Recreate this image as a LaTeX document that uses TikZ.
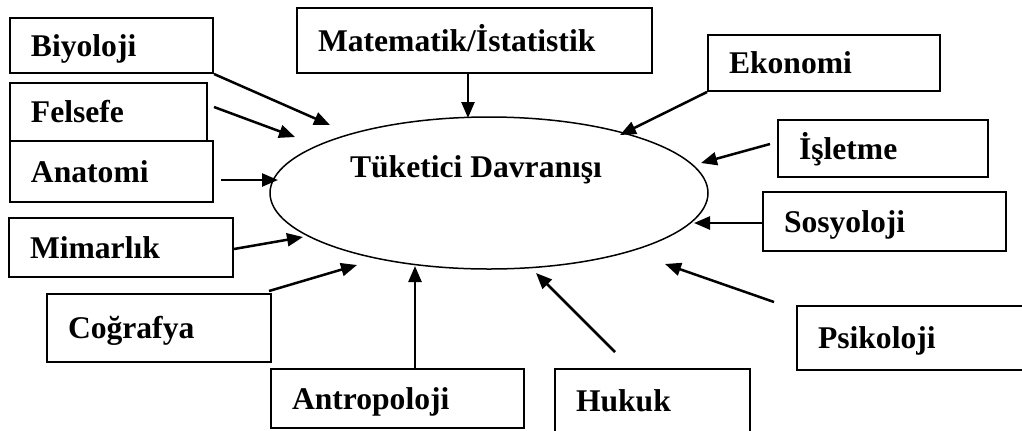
\documentclass[tikz,border=0pt]{standalone}
\usepackage{fontspec}
\setmainfont{Liberation Serif}
\usetikzlibrary{arrows.meta,shapes.geometric}

\tikzset{
  kutu/.style={draw, line width=1pt, inner xsep=10.5pt, inner ysep=0pt, align=left,
    text height=10.5pt, text depth=0pt, font=\fontsize{15.8}{19}\selectfont\bfseries},
  ok/.style={line width=1.25pt, -{Triangle[length=8pt,width=6.5pt]}}
}

\begin{document}
\begin{tikzpicture}[x=0.5pt,y=-0.5pt]
\useasboundingbox (0,0) rectangle (1022,430);

% centre
\node[draw, ellipse, line width=0.75pt, minimum width=219pt, minimum height=76pt] (tuketici) at (489,193) {};
\node[font=\fontsize{15.8}{19}\selectfont\bfseries, text height=10.5pt, text depth=0.5pt] (baslik) at (476,167) {Tüketici Davranışı};

% left side
\node[kutu, text width=80.5pt, minimum height=27.5pt] (biyoloji) at (111.5,45.5) {Biyoloji};
\node[kutu, text width=77.5pt, minimum height=29pt] (felsefe) at (108.5,112) {Felsefe};
\node[kutu, text width=80.5pt, minimum height=30.5pt] (anatomi) at (111.5,171.5) {Anatomi};
\node[kutu, text width=91pt, minimum height=29.5pt] (mimarlik) at (121,247.5) {Mimarlık};
\node[kutu, text width=91pt, minimum height=34pt] (cografya) at (159,328) {Coğrafya};

% top
\node[kutu, text width=156.5pt, minimum height=32.5pt] (matematik) at (474.5,40.5) {Matematik/İstatistik};

% right side
\node[kutu, text width=95pt, minimum height=28pt] (ekonomi) at (824,63) {Ekonomi};
\node[kutu, text width=84pt, minimum height=28.5pt] (isletme) at (883,148.5) {İşletme};
\node[kutu, text width=100.5pt, minimum height=29.5pt] (sosyoloji) at (884.5,221.5) {Sosyoloji};
\node[kutu, text width=95.5pt, minimum height=32pt] (psikoloji) at (913.5,338) {Psikoloji};

% bottom
\node[kutu, text width=105.5pt, minimum height=29.5pt] (antropoloji) at (397.5,398.5) {Antropoloji};
\node[kutu, text width=76.5pt, minimum height=32pt] (hukuk) at (652.5,401) {Hukuk};

% arrow tips
\coordinate (u-biyoloji) at (330,125);
\coordinate (u-felsefe) at (295,137);
\coordinate (u-anatomi) at (278,180);
\coordinate (u-mimarlik) at (303,237);
\coordinate (u-cografya) at (357,265);
\coordinate (u-matematik) at (468,118);
\coordinate (u-ekonomi) at (620,135);
\coordinate (u-isletme) at (701,163);
\coordinate (u-sosyoloji) at (694,223);
\coordinate (u-psikoloji) at (665,264);
\coordinate (u-antropoloji) at (415,266);
\coordinate (u-hukuk) at (536,273);

\draw[ok] (biyoloji.south east) -- (u-biyoloji);
\draw[ok] ([shift={(6,-5)}]felsefe.east) -- (u-felsefe);
\draw[ok] ([shift={(7,8.5)}]anatomi.east) -- (u-anatomi);
\draw[ok] ([shift={(0,1.5)}]mimarlik.east) -- (u-mimarlik);
\draw[ok] ([shift={(-3,-2)}]cografya.north east) -- (u-cografya);
\draw[ok] ([shift={(-6.5,0)}]matematik.south) -- (u-matematik);
\draw[ok] (ekonomi.south west) -- (u-ekonomi);
\draw[ok] ([shift={(-7,-4.5)}]isletme.west) -- (u-isletme);
\draw[ok] ([shift={(0,1.5)}]sosyoloji.west) -- (u-sosyoloji);
\draw[ok] ([shift={(-22,-3)}]psikoloji.north west) -- (u-psikoloji);
\draw[ok] ([shift={(17.5,0)}]antropoloji.north) -- (u-antropoloji);
\draw[ok] ([shift={(-37.5,-16)}]hukuk.north) -- (u-hukuk);

\end{tikzpicture}
\end{document}
